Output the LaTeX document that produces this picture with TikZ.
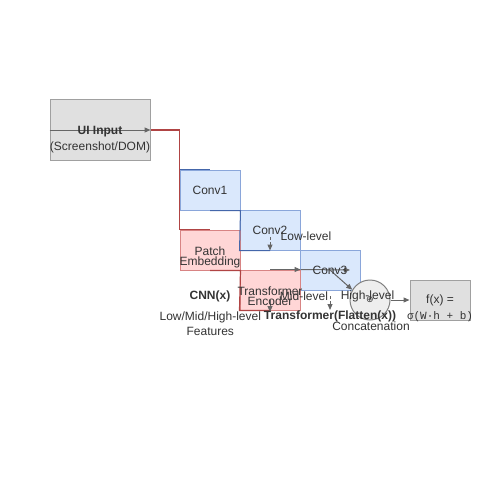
\documentclass[tikz,border=0pt]{standalone}
\usepackage{fontspec}
\setmainfont{Liberation Sans}
\setmonofont{Liberation Mono}
\newfontfamily\symfont{DejaVu Sans}
\usetikzlibrary{arrows.meta}
\definecolor{txt}{HTML}{333333}
\definecolor{grayfill}{HTML}{E0E0E0}
\definecolor{graybd}{HTML}{A0A0A0}
\definecolor{bluefill}{HTML}{DAE8FC}
\definecolor{bluebd}{HTML}{8AA6DA}
\definecolor{blueedge}{HTML}{4466AA}
\definecolor{redfill}{HTML}{FFD6D6}
\definecolor{redbd}{HTML}{D88484}
\definecolor{rededge}{HTML}{B04444}
\definecolor{arrowgray}{HTML}{666666}
\definecolor{circfill}{HTML}{EEEEEE}
\definecolor{circbd}{HTML}{808080}
\begin{document}
\begin{tikzpicture}[x=1pt,y=-1pt,
  font=\fontsize{12}{10}\selectfont, text=txt,
  box/.style={draw, line width=1pt, minimum width=60pt, minimum height=40pt, inner sep=0pt},
  graybox/.style={box, fill=grayfill, draw=graybd},
  bluebox/.style={box, fill=bluefill, draw=bluebd},
  redbox/.style={box, fill=redfill, draw=redbd},
  lbl/.style={inner sep=0pt, align=center, text=txt},
  garrow/.style={draw=arrowgray, line width=1pt, -{Triangle[length=6pt,width=5pt]}},
  dasharrow/.style={garrow, dash pattern=on 3pt off 2pt},
  bedge/.style={draw=blueedge, line width=1pt},
  redge/.style={draw=rededge, line width=1.2pt},
]
\useasboundingbox (0,0) rectangle (500,500);
% boxes
\node[graybox, minimum width=100pt, minimum height=60pt] (ui) at (100,130) {};
\node[bluebox] (conv1) at (210,190) {};
\node[bluebox] (conv2) at (270,230) {};
\node[bluebox] (conv3) at (330,270) {};
\node[redbox] (patch) at (210,250) {};
\node[redbox] (trans) at (270,290) {};
\node[circle, draw=circbd, fill=circfill, line width=1pt, minimum size=40pt, inner sep=0pt] (circ) at (370,300) {};
\node[graybox] (fx) at (440,300) {};
% edges
\draw[redge] (ui.east) -- (ui.east -| conv1.west) -- (patch.north west) -- (patch.north);
\draw[redge] (patch.south) -- (patch.south east) -- (trans.south west) -- (trans.south);
\draw[bedge] (conv1.north west) -- (conv1.north);
\draw[bedge] (conv1.south) -- (conv1.south east) -- (conv2.south west) -- (conv2.south);
% arrows
\draw[garrow] (ui.west) -- (ui.east);
\coordinate (c2a) at (270,237);
\draw[dasharrow] (c2a) -- (conv2.south);
\draw[garrow] (trans.north) -- (trans.north east);
\coordinate (c3r) at (350,270);
\draw[garrow] (trans.north east) -- (c3r);
\draw[garrow] (conv3.center) -- (circ.150);
\coordinate (mida) at (330,296);
\coordinate (midb) at (330,310);
\draw[dasharrow] (mida) -- (midb);
\coordinate (tra) at (270,300);
\coordinate (trb) at (270,312);
\draw[garrow] (tra) -- (trb);
\draw[garrow] (circ.east) -- (fx.west);
% labels
\node[lbl, font=\fontsize{12}{16}\selectfont] (uilbl) at (100,139.2) {\textbf{UI Input}\\(Screenshot/DOM)};
\node[lbl] (c1lbl) at (conv1.center) {Conv1};
\node[lbl] (c2lbl) at (conv2.center) {Conv2};
\node[lbl] (c3lbl) at (conv3.center) {Conv3};
\node[lbl] (patchlbl) at (210,257.2) {Patch\\Embedding};
\node[lbl] (translbl) at (270,296) {Transformer\\Encoder};
\node[lbl] (lowlbl) at (306,236) {Low-level};
\node[lbl] (midlbl) at (304,296) {Mid-level};
\node[lbl] (highlbl) at (367.5,296) {High-level};
\node[lbl] (cnnlbl) at (210,296) {\textbf{CNN(x)}};
\node[lbl, font=\fontsize{12}{15}\selectfont] (featlbl) at (210.3,323.6) {Low/Mid/High-level\\Features};
\node[lbl] (tflbl) at (330,316) {\textbf{Transformer(Flatten(x))}};
\node[lbl] (catlbl) at (371,326) {Concatenation};
\node[lbl, font=\symfont\fontsize{9}{9}\selectfont] (pluslbl) at (circ.center) {⊕};
\node[lbl] (fx1) at (440,300.5) {f(x) =};
\node[lbl, font=\ttfamily\fontsize{11}{11}\selectfont] (fx2) at (440,317) {σ(W·h + b)};
\end{tikzpicture}
\end{document}
